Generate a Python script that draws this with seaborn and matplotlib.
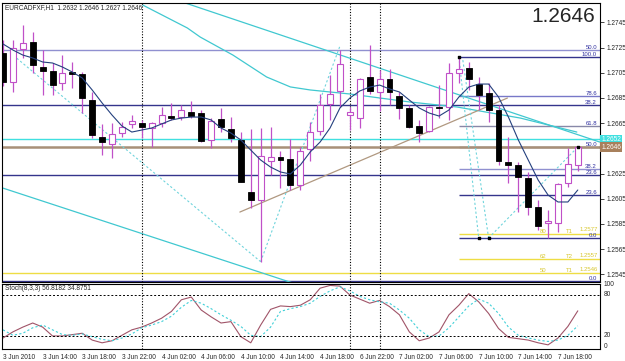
import numpy as np
import pandas as pd
import matplotlib
matplotlib.use("Agg")
import matplotlib.pyplot as plt
import matplotlib.transforms as mtransforms
import seaborn as sns

sns.set_style("white")
plt.rcParams['font.family'] = ['Liberation Sans', 'DejaVu Sans']

# ---------------- data ----------------
title_text = "EURCADFXF,H1  1.2632 1.2646 1.2627 1.2646"
stoch_text = "Stoch(8,3,3) 56.8182 34.8751"
big_price = "1.2646"

time_labels = ["3 Jun 2010", "3 Jun 14:00", "3 Jun 18:00", "3 Jun 22:00", "4 Jun 02:00",
               "4 Jun 06:00", "4 Jun 10:00", "4 Jun 14:00", "4 Jun 18:00", "6 Jun 22:00",
               "7 Jun 02:00", "7 Jun 06:00", "7 Jun 10:00", "7 Jun 14:00", "7 Jun 18:00"]
time_label_bars = [0, 4, 8, 12, 16, 20, 24, 28, 32, 36, 40, 44, 48, 52, 56]
separator_bars = [14, 35, 38]

open_ = [1.27206, 1.26976, 1.27238, 1.27294, 1.27095, 1.27063, 1.26968, 1.27055, 1.27040, 1.26833,
         1.26540, 1.26484, 1.26571, 1.26643, 1.26651, 1.26611, 1.26651, 1.26706, 1.26698, 1.26738,
         1.26730, 1.26516, 1.26683, 1.26603, 1.26516, 1.26103, 1.26040, 1.26349, 1.26381, 1.26365,
         1.26159, 1.26444, 1.26587, 1.26802, 1.26905, 1.26714, 1.26690, 1.27016, 1.26897, 1.27000,
         1.26865, 1.26770, 1.26627, 1.26587, 1.26778, 1.26778, 1.27048, 1.27087, 1.26960, 1.26889,
         1.26754, 1.26341, 1.26317, 1.26214, 1.25984, 1.25857, 1.25857, 1.26175, 1.26320]
high = [1.27310, 1.27310, 1.27429, 1.27373, 1.27230, 1.27127, 1.27190, 1.27135, 1.27055, 1.26897,
        1.26643, 1.26651, 1.26659, 1.26714, 1.26675, 1.26659, 1.26778, 1.26810, 1.26794, 1.26825,
        1.26754, 1.26690, 1.26770, 1.26698, 1.26579, 1.26603, 1.26611, 1.26619, 1.26428, 1.26524,
        1.26460, 1.26659, 1.26881, 1.27032, 1.27230, 1.26778, 1.27008, 1.27270, 1.27071, 1.27079,
        1.26897, 1.26794, 1.26675, 1.26786, 1.26952, 1.27127, 1.27175, 1.27135, 1.27016, 1.26968,
        1.26794, 1.26540, 1.26341, 1.26262, 1.26040, 1.25960, 1.26175, 1.26452, 1.26460]
low = [1.26944, 1.26897, 1.27167, 1.27048, 1.26873, 1.26873, 1.26913, 1.26929, 1.26730, 1.26532,
       1.26397, 1.26373, 1.26540, 1.26611, 1.26532, 1.26460, 1.26619, 1.26675, 1.26675, 1.26690,
       1.26500, 1.26452, 1.26579, 1.26500, 1.26182, 1.25976, 1.25550, 1.26238, 1.26135, 1.26119,
       1.26119, 1.26349, 1.26555, 1.26675, 1.26778, 1.26595, 1.26611, 1.26881, 1.26746, 1.26794,
       1.26683, 1.26611, 1.26500, 1.26579, 1.26690, 1.26675, 1.26968, 1.26913, 1.26754, 1.26659,
       1.26317, 1.26175, 1.25944, 1.25921, 1.25802, 1.25738, 1.25786, 1.26143, 1.26270]
close = [1.26976, 1.27246, 1.27286, 1.27111, 1.27063, 1.26952, 1.27048, 1.27040, 1.26849, 1.26555,
         1.26500, 1.26563, 1.26619, 1.26667, 1.26619, 1.26651, 1.26714, 1.26690, 1.26754, 1.26706,
         1.26508, 1.26667, 1.26619, 1.26532, 1.26182, 1.26040, 1.26389, 1.26381, 1.26357, 1.26159,
         1.26428, 1.26579, 1.26794, 1.26881, 1.27119, 1.26738, 1.27000, 1.26905, 1.27000, 1.26897,
         1.26770, 1.26619, 1.26571, 1.26778, 1.26770, 1.27048, 1.27079, 1.27000, 1.26873, 1.26754,
         1.26349, 1.26317, 1.26222, 1.25984, 1.25833, 1.25873, 1.26167, 1.26325, 1.26460]
ma = [1.27278, 1.27230, 1.27190, 1.27167, 1.27135, 1.27127, 1.27095, 1.27055, 1.27008, 1.26913,
      1.26810, 1.26714, 1.26627, 1.26579, 1.26595, 1.26611, 1.26643, 1.26675, 1.26690, 1.26698,
      1.26698, 1.26675, 1.26611, 1.26571, 1.26516, 1.26436, 1.26357, 1.26301, 1.26262, 1.26246,
      1.26317, 1.26421, 1.26500, 1.26611, 1.26770, 1.26849, 1.26905, 1.26936, 1.26952, 1.26921,
      1.26897, 1.26833, 1.26770, 1.26730, 1.26706, 1.26754, 1.26857, 1.26936, 1.26960, 1.26960,
      1.26857, 1.26698, 1.26516, 1.26357, 1.26198, 1.26079, 1.26024, 1.26024, 1.26119]
stoch_k = [17, 26, 33, 39, 33, 20, 20, 22, 24, 14, 10, 13, 21, 29, 33, 39, 46, 56, 73, 77,
           58, 48, 39, 41, 19, 10, 36, 59, 64, 63, 65, 73, 90, 94, 93, 80, 74, 68, 72, 63,
           51, 26, 13, 17, 26, 51, 65, 82, 70, 53, 31, 18, 16, 14, 10, 7, 17, 34, 56.8182]
stoch_d = [29, 21, 24, 32, 36, 29, 22, 21, 23, 19, 15, 13, 17, 23, 32, 36, 41, 49, 62, 72,
           68, 60, 51, 43, 34, 21, 19, 33, 56, 60, 63, 68, 78, 86, 92, 86, 78, 73, 70, 68,
           58, 46, 29, 19, 20, 32, 48, 64, 74, 68, 53, 33, 21, 17, 14, 12, 14, 21, 34.8751]

price_ticks = [1.2745, 1.2725, 1.2705, 1.2685, 1.2665, 1.2625, 1.2605, 1.2585, 1.2565, 1.2545]
cyan_level = 1.2652
bid_level = 1.2646

# Fibonacci retracement from the 7 Jun swing (drawn from its anchor bar rightwards)
fib1_start_bar = 46
fib1_levels = ["0.0", "23.6", "38.2", "50.0", "61.8", "78.6", "100.0"]
fib1_prices = [1.25738, 1.26077, 1.26287, 1.26457, 1.26626, 1.26867, 1.27175]
# Full-width Fibonacci levels
fib2_levels = ["0.0", "23.6", "38.2", "50.0"]
fib2_prices = [1.25395, 1.26238, 1.26794, 1.27230]

# Target lines (yellow)
target_tags = ["80", "62", "50"]
target_names = ["T1", "T2", "T1"]
target_prices = [1.2577, 1.2557, 1.2546]

# trend lines (bar, price) anchors
line1_bars, line1_prices = [18.4, 60.2], [1.27603, 1.26500]
curve_bars = [14.1, 18.6, 19.9, 23.2, 26.6, 29.0, 31.0, 35.0, 41.1, 45.8, 52.2, 57.9]
curve_prices = [1.27587, 1.27405, 1.27333, 1.27190, 1.27016, 1.26937, 1.26913, 1.26881,
                1.26817, 1.26778, 1.26690, 1.26579]
line3_bars, line3_prices = [0, 32], [1.26134, 1.25310]
tan_bars, tan_prices = [23.9, 50.9], [1.25944, 1.26849]
zig_bars = [[0.7, 26], [26, 34], [46, 48], [46.4, 49], [49, 58]]
zig_prices = [[1.27210, 1.25550], [1.25550, 1.27262], [1.27175, 1.25738],
              [1.27150, 1.25738], [1.25738, 1.26460]]
marker_bars = [46, 48, 49, 58]
marker_prices = [1.27175, 1.25738, 1.25738, 1.26460]

# ---------------- styles ----------------
W, H = 625, 361
VIOLET = "#c050c8"
NAVY = "#34348c"
CYAN = "#40c8d0"
LCYAN = "#70d4dc"
YEL = "#eedd44"
FS = 4.7

fig = plt.figure(figsize=(W / 100, H / 100), dpi=100)
fig.patch.set_facecolor("white")


def px_axes(left, top, right, bottom):
    return fig.add_axes([left / W, 1 - bottom / H, (right - left) / W, (bottom - top) / H])


ax = px_axes(2, 3, 600, 282)
ax2 = px_axes(2, 284, 600, 349)
XL = (-0.1, 60.24)

n = len(open_)
x = np.arange(n)
o = np.array(open_); c = np.array(close); hi = np.array(high); lo = np.array(low)
bull = c >= o

# lines behind candles
for lvl, p in zip(fib2_levels, fib2_prices):
    col = "#9090d0" if lvl == "50.0" else NAVY
    ax.axhline(p, color=col, lw=1.0, zorder=1)
fib_cols = {"0.0": NAVY, "23.6": NAVY, "38.2": "#9090d0", "50.0": "#505070",
            "61.8": "#8888a8", "78.6": "#7878c8", "100.0": NAVY}
for lvl, p in zip(fib1_levels, fib1_prices):
    ax.hlines(p, fib1_start_bar, XL[1], color=fib_cols[lvl], lw=1.0, zorder=1)
for i, p in enumerate(target_prices):
    start = XL[0] if i == 2 else fib1_start_bar
    ax.hlines(p, start, XL[1], color=YEL, lw=1.0, zorder=1)
ax.axhline(cyan_level, color="#40e0e0", lw=1.0, zorder=1)
ax.axhline(bid_level, color="#a89078", lw=1.8, zorder=1)

ax.plot(line1_bars, line1_prices, color=CYAN, lw=0.9, zorder=1)
ax.plot(curve_bars, curve_prices, color=CYAN, lw=0.9, zorder=1)
ax.plot(line3_bars, line3_prices, color=CYAN, lw=0.9, zorder=1)
ax.plot(tan_bars, tan_prices, color="#b09880", lw=0.9, zorder=1)
for zb, zp in zip(zig_bars, zig_prices):
    ax.plot(zb, zp, color=LCYAN, lw=0.8, ls=(0, (2, 2)), zorder=1)

for b in separator_bars:
    ax.axvline(b, color="black", lw=0.8, ls=(0, (1, 1.5)), zorder=1)
    ax2.axvline(b, color="black", lw=0.8, ls=(0, (1, 1.5)), zorder=1)

# candles
ax.vlines(x, lo, hi, color=VIOLET, lw=0.9, zorder=2)
ax.bar(x[bull], np.maximum(c[bull] - o[bull], 0.00002), bottom=o[bull], width=0.6,
       color="white", edgecolor=VIOLET, linewidth=0.8, zorder=3)
ax.bar(x[~bull], np.minimum(c[~bull] - o[~bull], -0.00002), bottom=o[~bull], width=0.6,
       color="black", edgecolor="black", linewidth=0.6, zorder=3)

sns.lineplot(x=x, y=ma, ax=ax, color="#24407e", lw=0.8, legend=False, zorder=4)
ax.scatter(marker_bars, marker_prices, s=3, color="black", marker="s", zorder=5)

ax.set_xlim(*XL)
ax.set_ylim(1.253889, 1.276032)
ax.set_xticks([])
ax.yaxis.tick_right()
ax.set_yticks(price_ticks)
ax.set_yticklabels([f"{t:.4f}" for t in price_ticks])
ax.tick_params(axis="y", length=3, width=0.6, labelsize=FS, pad=1.5, direction="out")
ax.set_xlabel(""); ax.set_ylabel("")

# level labels
tr = mtransforms.blended_transform_factory(ax.transAxes, ax.transData)
for lvl, p in zip(fib1_levels + fib2_levels, fib1_prices + fib2_prices):
    ax.text(0.995, p, lvl, transform=tr, ha="right", va="bottom", fontsize=4.3,
            color="#3030a0", zorder=6)
for tag, name, p in zip(target_tags, target_names, target_prices):
    ax.text(0.900, p, tag, transform=tr, ha="left", va="bottom", fontsize=4.3, color="#d8c830")
    ax.text(0.943, p, name, transform=tr, ha="left", va="bottom", fontsize=4.3, color="#d8c830")
    ax.text(0.997, p + 0.00012, f"{p:.4f}", transform=tr, ha="right", va="bottom", fontsize=4.3,
            color="#d8c830")

# price boxes on the axis
ax.text(1.002, cyan_level, f"{cyan_level:.4f}", transform=tr, ha="left", va="center",
        fontsize=FS, color="white", bbox=dict(boxstyle="square,pad=0.2", fc="#40e0e0", ec="none"))
ax.text(1.002, bid_level, f"{bid_level:.4f}", transform=tr, ha="left", va="center",
        fontsize=FS, color="white", bbox=dict(boxstyle="square,pad=0.2", fc="#a8805c", ec="none"))

# stochastic panel
sns.lineplot(x=x, y=stoch_k, ax=ax2, color="#a05468", lw=0.8, legend=False)
sns.lineplot(x=x, y=stoch_d, ax=ax2, color="#40d0d8", lw=0.8, ls=(0, (2, 2)), legend=False)
ax2.axhline(80, color="black", lw=0.7, ls=(0, (2, 2)))
ax2.axhline(20, color="black", lw=0.7, ls=(0, (2, 2)))
ax2.set_xlim(*XL)
ax2.set_ylim(0.94, 96.1)
ax2.set_yticks([])
ax2.set_xticks(time_label_bars)
ax2.set_xticklabels(time_labels)
for lab in ax2.get_xticklabels():
    lab.set_ha("left")
ax2.tick_params(axis="x", length=2, width=0.6, labelsize=FS, pad=1.5, direction="out")
ax2.set_xlabel(""); ax2.set_ylabel("")
tr2 = mtransforms.blended_transform_factory(ax2.transAxes, ax2.transData)
for v in [80, 20]:
    ax2.text(1.006, v, str(v), transform=tr2, ha="left", va="center", fontsize=FS)
ax2.text(1.006, 0.985, "100", transform=ax2.transAxes, ha="left", va="center", fontsize=FS)
ax2.text(1.006, 0.046, "0", transform=ax2.transAxes, ha="left", va="center", fontsize=FS)

for a in (ax, ax2):
    for s in a.spines.values():
        s.set_color("black"); s.set_linewidth(0.8); s.set_visible(True)

fig.text(5 / W, 1 - 8 / H, title_text, fontsize=FS, ha="left", va="center")
fig.text(5 / W, 1 - 288 / H, stoch_text, fontsize=FS, ha="left", va="center")
fig.text(595 / W, 1 - 17 / H, big_price, fontsize=15, ha="right", va="center")

fig.savefig("out.png", dpi=100)
